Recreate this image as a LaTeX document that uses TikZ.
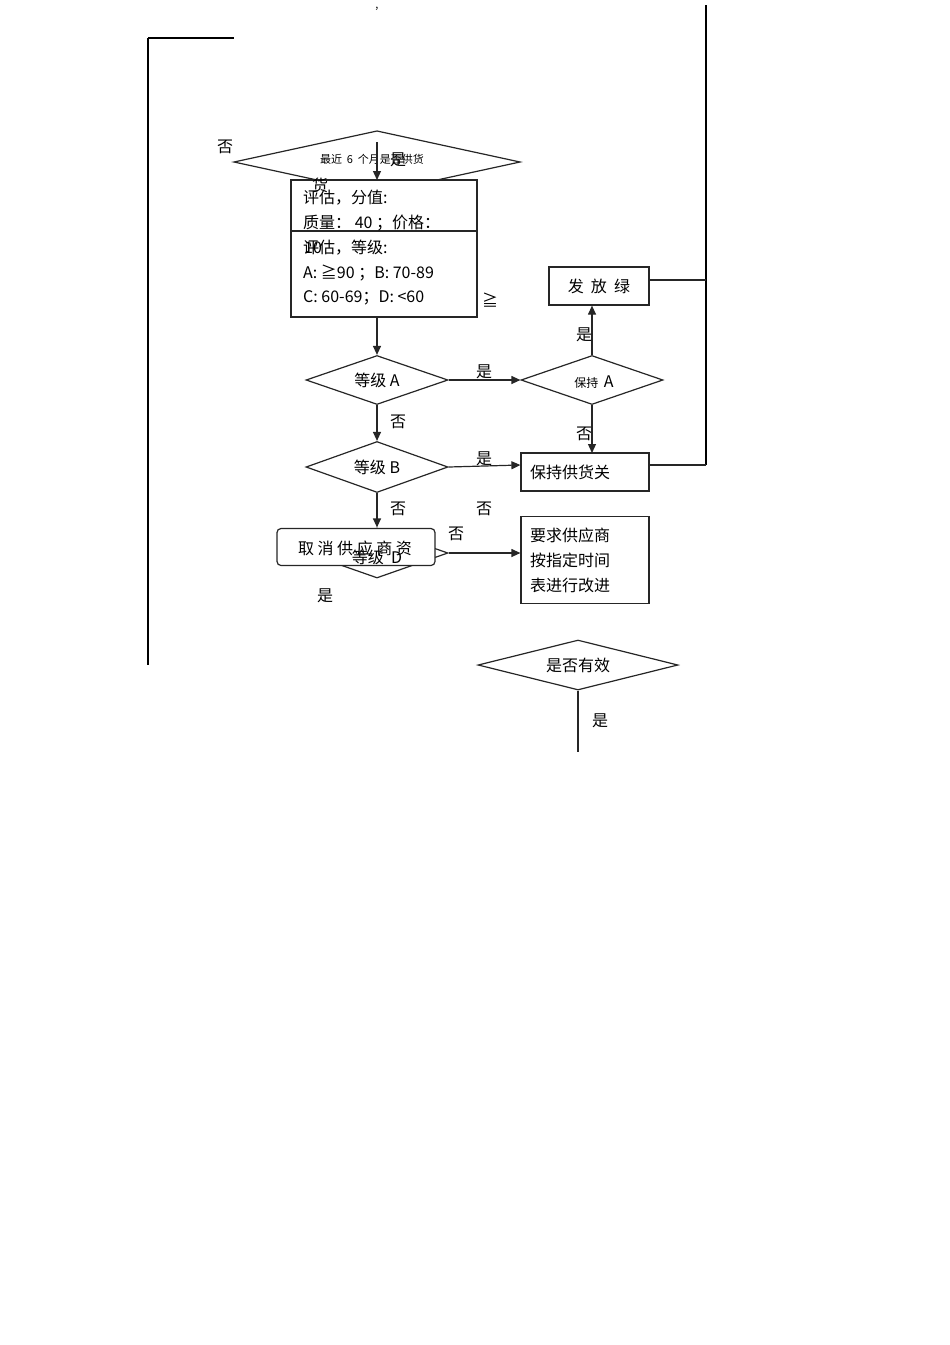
\documentclass[tikz,border=0pt]{standalone}
\usepackage{fontspec}
\setmainfont{Noto Sans CJK SC}
\usetikzlibrary{shapes.geometric,arrows.meta}
\begin{document}
\begin{tikzpicture}[x=1pt,y=-1pt,
  ln/.style={draw=black!85,line width=1.2pt},
  arr/.style={ln,-{Triangle[length=9pt,width=8pt]}},
  dia/.style={ln,fill=white},
  box/.style={ln,fill=white},
  t/.style={font=\fontsize{16}{16}\selectfont,inner sep=0pt},
  ts/.style={font=\fontsize{11}{11}\selectfont,inner sep=0pt},
  tl/.style={t,anchor=west}]
\useasboundingbox (0,0) rectangle (950,1345);
% frame lines
\draw[line width=1.8pt] (148,38) -- (234,38);
\draw[line width=1.2pt] (148,38) -- (148,665);
\draw[line width=1.2pt] (706,5) -- (706,465);
\node[ts] (tick) at (377,9) {,};
% top diamond
\draw[dia] (234,162) -- (377,131) -- (520,162) -- (377,193) -- cycle;
\node[ts] (q1) at (372,159) {最近 \ 6 \ 个月是否供货};
\node[t] (n0) at (225,147) {否};
\draw[box] (291,180) rectangle (477,317);
\draw[ln] (291,231) -- (477,231);
\coordinate (a0) at (377,142);
\coordinate (a1) at (377,180);
\draw[arr] (a0) -- (a1);
\node[t] (y0) at (398,160) {是};
\node[t] (h0) at (320,185) {货};
\node[tl] (l1) at (303,198) {评估，分值:};
\node[tl] (l2) at (303,223) {质量： 40 ；价格：};
\node[tl] (l3) at (303,248) {评估，等级:};
\node[tl] (l3b) at (304,248) {10};
\node[tl] (l4) at (303,273) {A: ≧90 ；B: 70-89};
\node[tl] (l5) at (303,298) {C: 60-69；D: <60};
\node[t] (ge) at (490,300) {≧};
% grade A
\node[dia,diamond,aspect=2.9,minimum width=142pt,minimum height=49pt,inner sep=0pt,t] (dA) at (377,380) {等级 A};
\coordinate (b1) at (377,317);
\draw[arr] (b1) -- (dA.north);
\node[dia,diamond,aspect=2.9,minimum width=142pt,minimum height=49pt,inner sep=0pt] (kA) at (592,380) {};
\node[ts,font=\fontsize{12}{12}\selectfont] (kAt) at (594,382) {保持 \ \fontsize{16}{16}\selectfont A};
\draw[arr] (dA.east) -- (kA.west);
\node[t] (y1) at (484,372) {是};
\node[box,minimum width=100pt,minimum height=38pt,t] (g) at (599,286) {发 \ 放 \ 绿};
\draw[arr] (kA.north) -- (kA.north |- g.south);
\node[t] (y2) at (584,335) {是};
\node[box,minimum width=128pt,minimum height=38pt,t,text width=110pt,align=left] (keep) at (585,472) {保持供货关};
\draw[arr] (kA.south) -- (592,453);
\node[t] (n1) at (584,434) {否};
\coordinate (r1) at (706,280);
\coordinate (r2) at (706,465);
\draw[ln] (649,280) -- (r1);
\draw[ln] (649,465) -- (r2);
% grade B
\node[dia,diamond,aspect=2.9,minimum width=142pt,minimum height=51pt,inner sep=0pt,t] (dB) at (377,467) {等级 B};
\draw[arr] (dA.south) -- (dB.north);
\node[t] (n2) at (398,422) {否};
\draw[arr] (dB.east) -- (keep.west |- 0,465);
\node[t] (y3) at (484,459) {是};
% grade D
\node[dia,diamond,aspect=2.9,minimum width=142pt,minimum height=50pt,inner sep=0pt] (dD) at (377,553) {};
\draw[arr] (dB.south) -- (dD.north);
\node[t] (n3) at (398,509) {否};
\node[t] (n4) at (484,509) {否};
\node[t] (n5) at (456,534) {否};
\node[box,rounded corners=4pt,minimum width=158pt,minimum height=37pt] (cx) at (356,547) {};
\node[t] (cxt) at (355,548) {取 消 供 应 商 资};
\node[t] (dDt) at (377,557) {等级 \ D};
\node[box,minimum width=128pt,minimum height=87pt,text width=110pt,align=left,t,font=\fontsize{16}{25}\selectfont] (req) at (585,560) {要求供应商\\按指定时间\\表进行改进};
\draw[arr] (dD.east) -- (req.west |- 0,553);
\node[t] (y4) at (325,596) {是};
% effective
\node[dia,diamond,aspect=4,minimum width=200pt,minimum height=50pt,inner sep=0pt,t] (eff) at (578,665) {是否有效};
\coordinate (e1) at (578,752);
\draw[ln] (eff.south) -- (e1);
\node[t] (y5) at (600,721) {是};
\end{tikzpicture}
\end{document}
